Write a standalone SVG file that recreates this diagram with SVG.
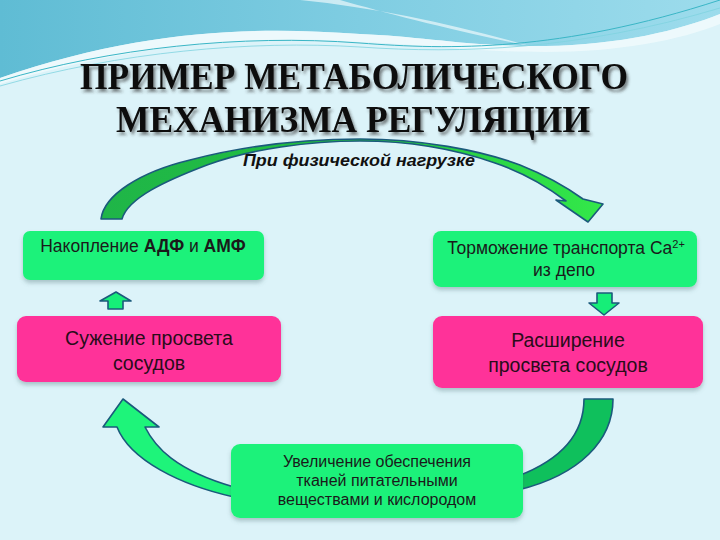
<svg xmlns="http://www.w3.org/2000/svg" width="720" height="540" viewBox="0 0 720 540">
  <defs>
    <linearGradient id="skyBlue" x1="0" y1="0" x2="1" y2="0">
      <stop offset="0" stop-color="#5fbcd4"/>
      <stop offset="0.5" stop-color="#7fcde2"/>
      <stop offset="1" stop-color="#9ddcec"/>
    </linearGradient>
    <linearGradient id="topArrowFill" x1="0" y1="0" x2="1" y2="0">
      <stop offset="0" stop-color="#1fb548"/>
      <stop offset="0.5" stop-color="#22c040"/>
      <stop offset="1" stop-color="#33e84a"/>
    </linearGradient>
    <filter id="titleShadow" x="-5%" y="-20%" width="110%" height="150%">
      <feDropShadow dx="2" dy="3" stdDeviation="1.6" flood-color="#333" flood-opacity="0.6"/>
    </filter>
    <filter id="boxShadow" x="-10%" y="-10%" width="120%" height="130%">
      <feDropShadow dx="0" dy="3" stdDeviation="2" flood-color="#4a6a70" flood-opacity="0.35"/>
    </filter>
  </defs>
  <style>
    .title { font-family: "Liberation Serif", "DejaVu Serif", serif; font-weight: bold; font-size: 37px; fill: #0a0a0a; }
    .sub { font-family: "Liberation Sans", Arial, sans-serif; font-weight: bold; font-style: italic; font-size: 16px; fill: #111; }
    .green { fill: #1ef27a; }
    .pink { fill: #ff3399; }
    .lbl { font-family: "Liberation Sans", Arial, sans-serif; font-size: 17.5px; fill: #1a1a1a; text-anchor: middle; }
    .lblp { font-family: "Liberation Sans", Arial, sans-serif; font-size: 19.5px; fill: #2a0c1a; text-anchor: middle; }
    .lbln { font-family: "Liberation Sans Narrow", "Liberation Sans", Arial, sans-serif; font-size: 16px; fill: #1a1a1a; text-anchor: middle; }
    .arr { stroke: #1b5a7c; stroke-width: 1.6; stroke-linejoin: round; }
  </style>

  <!-- background -->
  <rect width="720" height="540" fill="#dcf3f9"/>
  <path d="M0,0 H720 V14 C 680,30 620,45 545,46 C 470,47 420,36 360,34 C 250,26 140,30 0,78 Z" fill="url(#skyBlue)"/>
  <path d="M0,78 C 140,30 250,26 360,34 C 420,36 470,47 545,46 C 620,45 680,30 720,14 V24 C 680,40 620,52 545,52 C 470,52 420,44 360,42 C 250,34 130,45 0,84 Z" fill="#eef9fc" opacity="0.9"/>
  <path d="M300,0 C 380,8 460,26 530,46 C 450,30 390,14 340,0 Z" fill="#ffffff" opacity="0.6"/>
  <path d="M0,81 C 110,48 240,34 360,43 C 450,50 560,52 720,0" fill="none" stroke="#3ab6c6" stroke-width="1"/>
  <path d="M0,86 C 120,52 250,40 360,47 C 460,54 580,50 720,8" fill="none" stroke="#7fd3df" stroke-width="0.8"/>

  <!-- title -->
  <g id="title" filter="url(#titleShadow)">
    <text class="title" x="80" y="89" textLength="548" lengthAdjust="spacingAndGlyphs">ПРИМЕР МЕТАБОЛИЧЕСКОГО</text>
    <text class="title" x="116" y="132" textLength="474" lengthAdjust="spacingAndGlyphs">МЕХАНИЗМА РЕГУЛЯЦИИ</text>
  </g>

  <!-- connectors -->
  <g id="connectors">
    <path class="arr" fill="url(#topArrowFill)" d="M101,219 C 104,195 140,172 190,160 C 240,147 300,139 360,139 C 420,139 480,150 520,165 C 545,175 565,186 583,199 L 603,204 L 588,222 L 556,200 L 566,201 C 545,185 522,172 495,163 C 455,149 410,141 360,141 C 310,141 250,149 207,165 C 165,181 128,198 122,219 Z"/>
    <path class="arr" fill="#16ee78" d="M116,292 L131,301 L123,301 L123,309 L108,309 L108,301 L100,301 Z"/>
    <path class="arr" fill="#16ee78" d="M597,293 L612,293 L612,303 L619,303 L604,315 L589,303 L597,303 Z"/>
    <path class="arr" fill="#1ef47a" d="M123,399 L159,427 L145,427 C 155,447 175,470 234,487 L 234,497 C 180,485 130,460 117,427 L103,427 Z"/>
    <path class="arr" fill="#0fc05c" d="M584,399 L613,399 C 613,440 580,475 518,490 L 518,476 C 560,460 584,435 584,399 Z"/>
  </g>

  <text class="sub" x="243" y="166" textLength="232" lengthAdjust="spacingAndGlyphs">При физической нагрузке</text>

  <!-- nodes -->
  <g id="node-adp" filter="url(#boxShadow)">
    <rect class="green" x="23" y="231" width="241" height="49" rx="7"/>
  </g>
  <text class="lbl" x="143" y="252">Накопление <tspan font-weight="bold">АДФ</tspan> и <tspan font-weight="bold">АМФ</tspan></text>

  <g id="node-narrow" filter="url(#boxShadow)">
    <rect class="pink" x="17" y="316" width="264" height="66" rx="9"/>
  </g>
  <text class="lblp" x="149" y="345">Сужение просвета</text>
  <text class="lblp" x="149" y="370">сосудов</text>

  <g id="node-ca" filter="url(#boxShadow)">
    <rect class="green" x="433" y="231" width="264" height="56" rx="8"/>
  </g>
  <text class="lbl" x="566" y="254">Торможение транспорта Ca<tspan font-size="11" dy="-6">2+</tspan></text>
  <text class="lbl" x="564" y="276">из депо</text>

  <g id="node-wide" filter="url(#boxShadow)">
    <rect class="pink" x="433" y="316" width="270" height="72" rx="9"/>
  </g>
  <text class="lblp" x="568" y="347">Расширение</text>
  <text class="lblp" x="568" y="372">просвета сосудов</text>

  <g id="node-supply" filter="url(#boxShadow)">
    <rect class="green" x="231" y="444" width="292" height="74" rx="9"/>
  </g>
  <text class="lbln" x="377" y="467">Увеличение обеспечения</text>
  <text class="lbln" x="377" y="486">тканей питательными</text>
  <text class="lbln" x="377" y="505">веществами и кислородом</text>
</svg>
